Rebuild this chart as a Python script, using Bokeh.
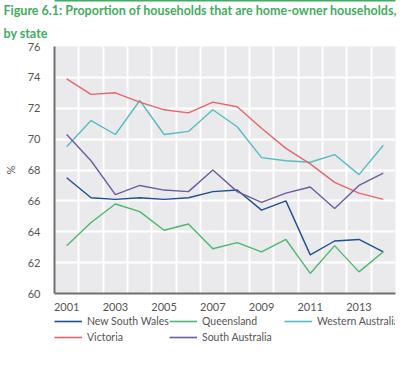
from bokeh.plotting import figure
from bokeh.models import (FixedTicker, Legend, LegendItem, Title, Range1d, LinearAxis)
from bokeh.layouts import column
from bokeh.embed import file_html
from bokeh.resources import INLINE

years = [2001, 2002, 2003, 2004, 2005, 2006, 2007, 2008, 2009, 2010, 2011, 2012, 2013, 2014]
nsw = [67.5, 66.2, 66.1, 66.2, 66.1, 66.2, 66.6, 66.7, 65.4, 66.0, 62.5, 63.4, 63.5, 62.7]
queensland = [63.1, 64.6, 65.8, 65.3, 64.1, 64.5, 62.9, 63.3, 62.7, 63.5, 61.3, 63.1, 61.4, 62.7]
western_australia = [69.5, 71.2, 70.3, 72.5, 70.3, 70.5, 71.9, 70.8, 68.8, 68.6, 68.5, 69.0, 67.7, 69.6]
victoria = [73.9, 72.9, 73.0, 72.4, 71.9, 71.7, 72.4, 72.1, 70.7, 69.4, 68.4, 67.2, 66.5, 66.1]
south_australia = [70.3, 68.6, 66.4, 67.0, 66.7, 66.6, 68.0, 66.6, 65.9, 66.5, 66.9, 65.5, 67.0, 67.8]

series_names = ["New South Wales", "Queensland", "Western Australia", "Victoria", "South Australia"]
series_values = [nsw, queensland, western_australia, victoria, south_australia]
series_colors = ["#1f4f8f", "#4cb86f", "#56bcbf", "#e8646c", "#6e5b9e"]

x_tick_labels = [2001, 2003, 2005, 2007, 2009, 2011, 2013]
y_ticks = [60, 62, 64, 66, 68, 70, 72, 74, 76]

title_line1 = "Figure 6.1: Proportion of households that are home-owner households,"
title_line2 = "by state"

FONT = "Lato"
TXT = "#555555"
GREEN = "#3fae5f"

# ---------------- main chart ----------------
p = figure(width=410, height=313, output_backend="svg", toolbar_location=None,
           x_range=Range1d(2000.5, 2014.5), y_range=Range1d(60, 76),
           min_border_left=48, min_border_right=15, min_border_top=38, min_border_bottom=20)

p.background_fill_color = "#eaeaed"
p.border_fill_color = "white"
p.outline_line_color = None

for name, vals, col in zip(series_names, series_values, series_colors):
    p.line(years, vals, line_color=col, line_width=1.4)

p.xgrid.ticker = FixedTicker(ticks=[y + 0.5 for y in range(2000, 2015)])
p.ygrid.ticker = FixedTicker(ticks=y_ticks)
p.xgrid.grid_line_color = "white"
p.ygrid.grid_line_color = "white"
p.xgrid.grid_line_width = 2
p.ygrid.grid_line_width = 2

p.xaxis.ticker = FixedTicker(ticks=x_tick_labels)
p.yaxis.ticker = FixedTicker(ticks=y_ticks)
for ax in (p.xaxis[0], p.yaxis[0]):
    ax.axis_line_color = "#707070"
    ax.axis_line_width = 2
    ax.major_tick_line_color = None
    ax.minor_tick_line_color = None
    ax.major_label_text_font = FONT
    ax.major_label_text_font_size = "11px"
    ax.major_label_text_color = TXT
p.xaxis.major_label_standoff = 3
p.yaxis.major_label_standoff = 8
p.yaxis.axis_label = "%"
p.yaxis.axis_label_text_font = FONT
p.yaxis.axis_label_text_font_style = "normal"
p.yaxis.axis_label_text_font_size = "11px"
p.yaxis.axis_label_text_color = TXT
p.yaxis.axis_label_standoff = 8

t2 = Title(text=title_line2, text_font=FONT, text_font_size="12.5px",
           text_font_style="bold", text_color=GREEN, align="left", offset=-51,
           standoff=12)
t1 = Title(text=title_line1, text_font=FONT, text_font_size="12.5px",
           text_font_style="bold", text_color=GREEN, align="left", offset=-51,
           standoff=0)
p.add_layout(t2, "above")
p.add_layout(t1, "above")

rule = LinearAxis(ticker=FixedTicker(ticks=[]), axis_line_color=GREEN, axis_line_width=2,
                  major_tick_line_color=None, minor_tick_line_color=None,
                  major_label_text_font_size="0px")
p.add_layout(rule, "above")

# ---------------- legend strip ----------------
pl = figure(width=410, height=45, output_backend="svg", toolbar_location=None,
            x_axis_type=None, y_axis_type=None,
            x_range=Range1d(0, 1), y_range=Range1d(0, 1),
            min_border_left=48, min_border_right=0, min_border_top=1, min_border_bottom=14)
pl.grid.visible = False
pl.outline_line_color = None
pl.background_fill_color = "white"
pl.border_fill_color = "white"

# key renderers use the series data, which lies outside this strip's ranges (not visible)
key_renderers = [pl.line(years, vals, line_color=c, line_width=1.6)
                 for vals, c in zip(series_values, series_colors)]
items = [LegendItem(label=n, renderers=[r]) for n, r in zip(series_names, key_renderers)]
common = dict(orientation="horizontal", glyph_width=28, glyph_height=14,
              label_standoff=5, spacing=0, padding=0, margin=0,
              label_text_font=FONT, label_text_font_size="10.5px",
              label_text_color=TXT, border_line_color=None,
              background_fill_alpha=0, label_width=82, label_height=14)
leg1 = Legend(items=items[:3], location="top_left", **common)
leg2 = Legend(items=items[3:], location="bottom_left", **common)
pl.add_layout(leg1)
pl.add_layout(leg2)

layout = column(p, pl, spacing=0)
open("out.html", "w").write(file_html(layout, INLINE))
